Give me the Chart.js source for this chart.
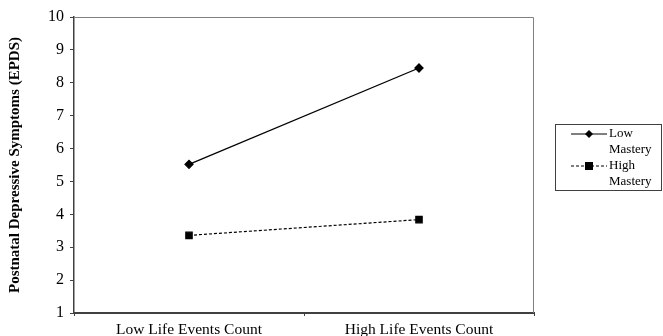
<!DOCTYPE html>
<html>
<head>
<meta charset="utf-8">
<script src="https://cdn.jsdelivr.net/npm/chart.js@4.4.1/dist/chart.umd.min.js"></script>
<style>
  html, body { margin: 0; padding: 0; background: #fff; }
  #wrap { width: 663px; height: 336px; }
</style>
</head>
<body>
<div id="wrap"><canvas id="chart" width="663" height="336"></canvas></div>
<script>
var categories = ["Low Life Events Count", "High Life Events Count"];
var lowMastery = [5.52, 8.45];
var highMastery = [3.36, 3.84];
var seriesNames = [["Low", "Mastery"], ["High", "Mastery"]];
var yTicks = [1, 2, 3, 4, 5, 6, 7, 8, 9, 10];

var serif = "'Liberation Serif', 'Times New Roman', serif";

// gray frame on top/right like the original plot area
var framePlugin = {
    id: 'frame',
    beforeDatasetsDraw: function (chart) {
        var a = chart.chartArea, ctx = chart.ctx;
        ctx.save();
        ctx.strokeStyle = '#808080';
        ctx.lineWidth = 1;
        ctx.beginPath();
        ctx.moveTo(a.left, a.top + 0.5);
        ctx.lineTo(a.right - 0.5, a.top + 0.5);
        ctx.lineTo(a.right - 0.5, a.bottom);
        ctx.stroke();
        ctx.restore();
    }
};

// boxed legend on the right with two-line labels
var boxLegend = {
    id: 'boxLegend',
    afterDraw: function (chart) {
        var ctx = chart.ctx;
        var x0 = 555, y0 = 124, w = 106, h = 66;
        ctx.save();
        ctx.strokeStyle = '#404040';
        ctx.lineWidth = 1;
        ctx.strokeRect(x0 + 0.5, y0 + 0.5, w, h);
        ctx.font = "13px " + serif;
        ctx.fillStyle = '#000';
        ctx.textBaseline = 'middle';
        chart.data.datasets.forEach(function (ds, i) {
            var y = y0 + 10 + i * 32;
            ctx.strokeStyle = '#000';
            ctx.lineWidth = 1;
            ctx.setLineDash(ds.borderDash || []);
            ctx.beginPath();
            ctx.moveTo(x0 + 16, y);
            ctx.lineTo(x0 + 52, y);
            ctx.stroke();
            ctx.setLineDash([]);
            var cx = x0 + 34;
            ctx.beginPath();
            if (ds.pointStyle === 'rect') {
                ctx.rect(cx - 4, y - 4, 8, 8);
            } else {
                ctx.moveTo(cx, y - 4); ctx.lineTo(cx + 4, y); ctx.lineTo(cx, y + 4); ctx.lineTo(cx - 4, y);
                ctx.closePath();
            }
            ctx.fill();
            ctx.fillText(seriesNames[i][0], x0 + 54, y);
            ctx.fillText(seriesNames[i][1], x0 + 54, y + 16);
        });
        ctx.restore();
    }
};

new Chart(document.getElementById('chart'), {
    type: 'line',
    data: {
        labels: categories,
        datasets: [
            {
                label: 'Low Mastery',
                data: lowMastery,
                borderColor: '#000',
                backgroundColor: '#000',
                borderWidth: 1.3,
                pointStyle: 'rectRot',
                pointRadius: 4,
                pointHoverRadius: 4
            },
            {
                label: 'High Mastery',
                data: highMastery,
                borderColor: '#000',
                backgroundColor: '#000',
                borderWidth: 1.2,
                borderDash: [3, 2],
                pointStyle: 'rect',
                pointRadius: 4.5,
                pointHoverRadius: 4.5
            }
        ]
    },
    options: {
        responsive: false,
        animation: false,
        layout: { padding: { left: 0, right: 129, top: 17, bottom: 0 } },
        plugins: {
            legend: { display: false },
            tooltip: { enabled: false }
        },
        scales: {
            x: {
                offset: true,
                grid: { display: true, drawOnChartArea: false, offset: true, tickLength: 3, color: '#404040' },
                border: { color: '#404040', width: 2 },
                ticks: { color: '#000', font: { family: serif, size: 15.5 }, padding: 5, maxRotation: 0 },
                afterFit: function (s) { s.height = 23; }
            },
            y: {
                min: 1,
                max: 10,
                afterBuildTicks: function (s) { s.ticks = yTicks.map(function (v) { return { value: v }; }); },
                grid: { display: true, drawOnChartArea: false, tickLength: 4, color: '#404040' },
                border: { color: '#404040', width: 1.5 },
                ticks: { color: '#000', font: { family: serif, size: 16 }, padding: 6 },
                title: {
                    display: true,
                    text: 'Postnatal Depressive Symptoms (EPDS)',
                    color: '#000',
                    font: { family: serif, size: 15, weight: 'bold' },
                    padding: { top: 6, bottom: 0 }
                },
                afterFit: function (s) { s.width = 74; }
            }
        }
    },
    plugins: [framePlugin, boxLegend]
});
</script>
</body>
</html>
